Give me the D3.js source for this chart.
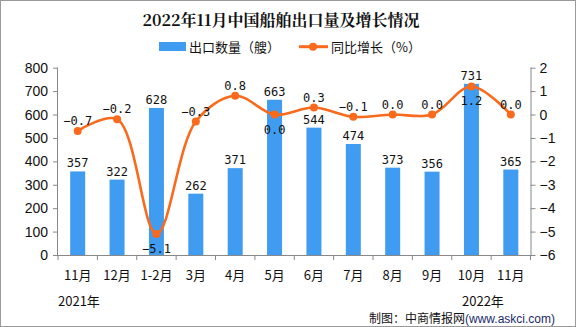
<!DOCTYPE html>
<html><head><meta charset="utf-8">
<script src="https://cdn.jsdelivr.net/npm/d3@7"></script>
<style>body{margin:0;background:#fff}svg{display:block}</style>
</head><body>
<script>
const categories = ["11月","12月","1-2月","3月","4月","5月","6月","7月","8月","9月","10月","11月"];
const exportCounts = [357,322,628,262,371,663,544,474,373,356,731,365];
const growthRates = [-0.7,-0.2,-5.1,-0.3,0.8,0.0,0.3,-0.1,0.0,0.0,1.2,0.0];
const growthLabelBelow = [false,false,true,false,false,true,false,false,false,false,true,false];
const leftTicks = [0,100,200,300,400,500,600,700,800];
const rightTicks = [-6,-5,-4,-3,-2,-1,0,1,2];

(function(){
const W=576,H=327;
const svg=d3.select("body").append("svg").attr("width",W).attr("height",H);
svg.append("rect").attr("x",0.5).attr("y",0.5).attr("width",W-1).attr("height",H-1).attr("fill","#fff").attr("stroke","#9a9a9a");

const pL=58,pR=530.5,pT=67.7,pB=255;
const x=d3.scaleBand().domain(categories.map((c,i)=>i)).range([pL,pR]).padding(0);
const yL=d3.scaleLinear().domain([0,800]).range([pB,pT]);
const yR=d3.scaleLinear().domain([-6,2]).range([pB,pT]);

// title
svg.append("text").attr("x",281).attr("y",26).attr("text-anchor","middle")
  .attr("font-family","Noto Serif CJK SC, Noto Sans CJK SC").attr("font-weight","bold").attr("font-size",16).attr("fill","#111")
  .text("2022年11月中国船舶出口量及增长情况");

// legend
svg.append("rect").attr("x",159).attr("y",42).attr("width",27).attr("height",9).attr("fill","#3f9cf0");
svg.append("text").attr("x",189).attr("y",51.5).attr("font-family","Noto Sans CJK SC").attr("font-size",13).attr("fill","#111").text("出口数量（艘）");
svg.append("line").attr("x1",299).attr("x2",328).attr("y1",46.7).attr("y2",46.7).attr("stroke","#fa6a1c").attr("stroke-width",3);
svg.append("circle").attr("cx",313).attr("cy",46.7).attr("r",4).attr("fill","#fa6a1c");
svg.append("text").attr("x",331).attr("y",51.5).attr("font-family","Noto Sans CJK SC").attr("font-size",13).attr("fill","#111").text("同比增长（%）");

// axes
const axisColor="#888";
const gL=svg.append("g").attr("transform",`translate(${pL},0)`).call(d3.axisLeft(yL).tickValues(leftTicks).tickSize(5).tickPadding(5));
const gR=svg.append("g").attr("transform",`translate(${pR},0)`).call(d3.axisRight(yR).tickValues(rightTicks).tickSize(5).tickPadding(4).tickFormat(d=>d<0?"−"+Math.abs(d):d));
[gL,gR].forEach(g=>{
  g.select(".domain").attr("stroke",axisColor).attr("d",g===gL?`M-0.5,${pT}V${pB}`:`M0.5,${pT}V${pB}`);
  g.selectAll(".tick line").attr("stroke",axisColor);
  g.selectAll(".tick text").attr("font-family","Liberation Sans, Arial").attr("font-size",14).attr("fill","#111");
});
const gB=svg.append("g").attr("transform",`translate(0,${pB})`);
gB.append("line").attr("x1",pL).attr("x2",pR).attr("y1",0.5).attr("y2",0.5).attr("stroke",axisColor);
const bounds=d3.range(categories.length+1).map(i=>pL+i*x.bandwidth());
gB.selectAll("line.t").data(bounds).join("line").attr("class","t")
  .attr("x1",d=>d).attr("x2",d=>d).attr("y1",0).attr("y2",5).attr("stroke",axisColor);
gB.selectAll("text").data(categories).join("text")
  .attr("x",(d,i)=>x(i)+x.bandwidth()/2).attr("y",25).attr("text-anchor","middle")
  .attr("font-family","Noto Sans CJK SC").attr("font-size",13).attr("fill","#111").text(d=>d);

svg.append("text").attr("x",58).attr("y",306).attr("font-family","Noto Sans CJK SC").attr("font-size",13).attr("fill","#111").text("2021年");
svg.append("text").attr("x",462).attr("y",306).attr("font-family","Noto Sans CJK SC").attr("font-size",13).attr("fill","#111").text("2022年");
const src=svg.append("text").attr("x",369).attr("y",323).attr("font-family","Noto Sans CJK SC").attr("font-size",12).attr("fill","#111");
src.append("tspan").text("制图：中商情报网");
src.append("tspan").attr("fill","#1a2a6a").attr("font-family","Liberation Sans, Arial").text("(www.askci.com)");

// bars
const bw=15;
svg.append("g").selectAll("rect").data(exportCounts).join("rect")
  .attr("x",(d,i)=>x(i)+x.bandwidth()/2-bw/2).attr("width",bw)
  .attr("y",d=>yL(d)).attr("height",d=>pB-yL(d)).attr("fill","#3f9cf0");
svg.append("g").selectAll("text").data(exportCounts).join("text")
  .attr("x",(d,i)=>x(i)+x.bandwidth()/2).attr("y",d=>yL(d)-4).attr("text-anchor","middle")
  .attr("font-family","DejaVu Sans Mono, monospace").attr("font-size",12).attr("fill","#111").text(d=>d);

// line
const line=d3.line().x((d,i)=>x(i)+x.bandwidth()/2).y(d=>yR(d)).curve(d3.curveCatmullRom.alpha(0.5));
svg.append("path").datum(growthRates).attr("d",line).attr("fill","none").attr("stroke","#fa6a1c").attr("stroke-width",2.6);
svg.append("g").selectAll("circle").data(growthRates).join("circle")
  .attr("cx",(d,i)=>x(i)+x.bandwidth()/2).attr("cy",d=>yR(d)).attr("r",4).attr("fill","#fa6a1c");
svg.append("g").selectAll("text").data(growthRates).join("text")
  .attr("x",(d,i)=>x(i)+x.bandwidth()/2).attr("y",(d,i)=>growthLabelBelow[i]?yR(d)+19:yR(d)-6)
  .attr("text-anchor","middle").attr("font-family","DejaVu Sans Mono, monospace").attr("font-size",12).attr("fill","#111")
  .text(d=>(d<0?"−":"")+Math.abs(d).toFixed(1));
})();
</script>
</body></html>
